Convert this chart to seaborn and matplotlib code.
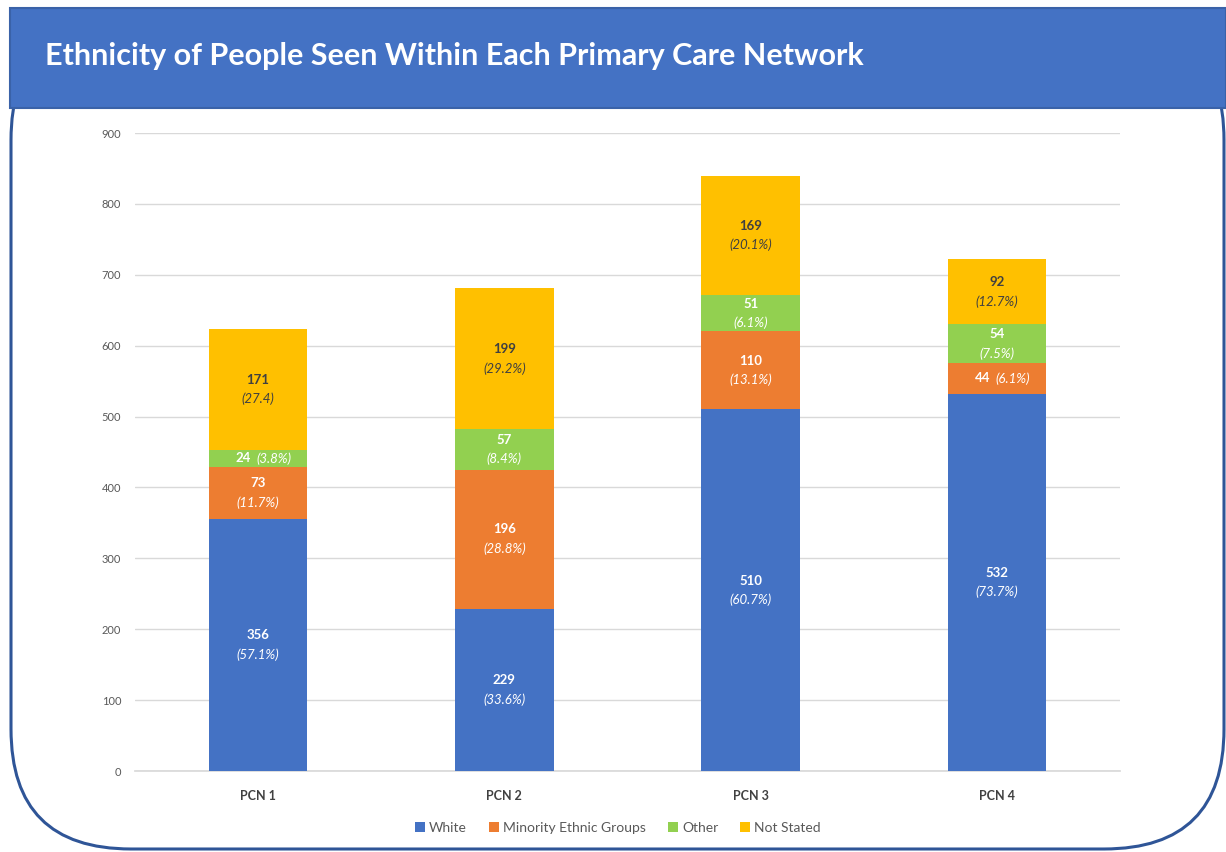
import matplotlib
matplotlib.use("Agg")
import matplotlib.pyplot as plt
from matplotlib.patches import FancyBboxPatch, Rectangle, Patch
import seaborn as sns
import pandas as pd
import numpy as np

categories = ["PCN 1", "PCN 2", "PCN 3", "PCN 4"]
series_names = ["White", "Minority Ethnic Groups", "Other", "Not Stated"]
white = [356, 229, 510, 532]
minority = [73, 196, 110, 44]
other = [24, 57, 51, 54]
not_stated = [171, 199, 169, 92]
white_pct = ["(57.1%)", "(33.6%)", "(60.7%)", "(73.7%)"]
minority_pct = ["(11.7%)", "(28.8%)", "(13.1%)", "(6.1%)"]
other_pct = ["(3.8%)", "(8.4%)", "(6.1%)", "(7.5%)"]
not_stated_pct = ["(27.4)", "(29.2%)", "(20.1%)", "(12.7%)"]
y_ticks = [0, 100, 200, 300, 400, 500, 600, 700, 800, 900]
title = "Ethnicity of People Seen Within Each Primary Care Network"

colors = ["#4472C4", "#ED7D31", "#92D050", "#FFC000"]
label_colors = ["white", "white", "white", "#404040"]

sns.set_theme(style="white")
FONT = ["Lato", "DejaVu Sans"]
plt.rcParams["font.family"] = FONT

W, H = 1226, 852
fig = plt.figure(figsize=(W / 100, H / 100), dpi=100)

# background frame axes in pixel coordinates
bg = fig.add_axes([0, 0, 1, 1])
bg.set_xlim(0, W)
bg.set_ylim(H, 0)
bg.axis("off")
box = FancyBboxPatch((11, 20), 1213, 829, boxstyle="round,pad=0,rounding_size=120",
                     fc="white", ec="#2F5597", lw=2.2, zorder=1)
bg.add_patch(box)
banner = Rectangle((10, 8), 1216, 100, fc="#4472C4", ec="#3A62A8", lw=1.5, zorder=2)
bg.add_patch(banner)
bg.text(45, 56, title, color="white", fontsize=22, fontweight="bold",
        family=FONT, ha="left", va="center", zorder=3)

# chart axes
ax = fig.add_axes([135 / W, (H - 771) / H, (1120 - 135) / W, (771 - 133) / H])
ax.set_facecolor("none")

series = [white, minority, other, not_stated]
pcts = [white_pct, minority_pct, other_pct, not_stated_pct]
cum = np.cumsum(np.array(series), axis=0)

# draw stacked bars (largest cumulative first)
for i in range(len(series) - 1, -1, -1):
    df = pd.DataFrame({"PCN": categories, "value": cum[i]})
    sns.barplot(data=df, x="PCN", y="value", color=colors[i], width=0.4,
                saturation=1, ax=ax, zorder=3, edgecolor="none")

for i in range(len(series)):
    for j, cat in enumerate(categories):
        val = series[i][j]
        base = cum[i][j] - val
        mid = base + val / 2
        c = label_colors[i]
        if val < 50:
            ax.annotate(str(val), (j, mid), xytext=(-5, 0), textcoords="offset points",
                        ha="right", va="center", fontsize=9.5, fontweight="bold", color=c, zorder=5)
            ax.annotate(pcts[i][j], (j, mid), xytext=(-1, 0), textcoords="offset points",
                        ha="left", va="center", fontsize=9.5, style="italic", color=c, zorder=5)
        else:
            ax.annotate(str(val), (j, mid), xytext=(0, 7), textcoords="offset points",
                        ha="center", va="center", fontsize=9.5, fontweight="bold", color=c, zorder=5)
            ax.annotate(pcts[i][j], (j, mid), xytext=(0, -7), textcoords="offset points",
                        ha="center", va="center", fontsize=9.5, style="italic", color=c, zorder=5)

ax.set_ylim(0, 900)
ax.set_xlim(-0.5, 3.5)
ax.set_yticks(y_ticks)
ax.yaxis.grid(True, color="#D9D9D9", lw=1)
ax.set_axisbelow(True)
for s in ["top", "right", "left"]:
    ax.spines[s].set_visible(False)
ax.spines["bottom"].set_color("#D9D9D9")
ax.set_xlabel("")
ax.set_ylabel("")
ax.tick_params(axis="y", length=0, pad=10, labelsize=8, labelcolor="#595959")
ax.tick_params(axis="x", length=0, pad=14, labelsize=9, labelcolor="#404040")
for lab in ax.get_xticklabels():
    lab.set_fontweight("bold")

handles = [Patch(facecolor=colors[i], edgecolor="none", label=series_names[i]) for i in range(4)]
fig.legend(handles=handles, loc="center", bbox_to_anchor=(618 / W, (H - 828) / H), ncol=4,
           frameon=False, fontsize=10, handlelength=0.7, handleheight=0.7,
           handletextpad=0.3, columnspacing=1.6, labelcolor="#595959")

fig.savefig("out.png", dpi=100)
